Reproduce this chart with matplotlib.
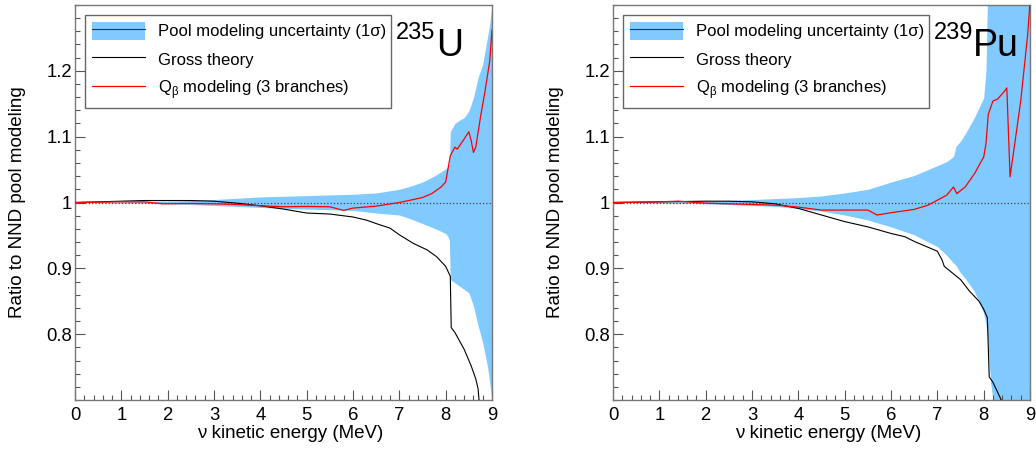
"""Ratio to NND pool modeling for 235U and 239Pu"""
import matplotlib
matplotlib.use("Agg")
import matplotlib.pyplot as plt
from matplotlib.patches import Patch
from matplotlib.lines import Line2D
from matplotlib.ticker import FixedLocator, MultipleLocator

plt.rcParams['font.family'] = ['Liberation Sans', 'DejaVu Sans']

BLUE = '#80caff'

# ---- 235U ----
u235_band_x = [0, 0.5, 1, 1.5, 2, 2.5, 3, 3.5, 4, 4.5, 5, 5.5, 6, 6.5, 7, 7.25,
               7.5, 7.75, 8, 8.05, 8.08, 8.1, 8.2, 8.3, 8.4, 8.5, 8.6, 8.7, 8.8,
               8.9, 8.95, 9.0]
u235_band_hi = [1, 1.0005, 1.001, 1.0015, 1.002, 1.003, 1.0045, 1.0065, 1.0085,
                1.0095, 1.0105, 1.0115, 1.0125, 1.0145, 1.02, 1.025, 1.031, 1.04,
                1.051, 1.055, 1.06, 1.1075, 1.12, 1.125, 1.129, 1.139, 1.159,
                1.19, 1.21, 1.25, 1.27, 1.3]
u235_band_lo = [1, 0.9995, 0.999, 0.9985, 0.998, 0.997, 0.9955, 0.994, 0.9925,
                0.991, 0.99, 0.989, 0.988, 0.984, 0.981, 0.975, 0.968, 0.961,
                0.953, 0.948, 0.943, 0.883, 0.878, 0.873, 0.868, 0.863, 0.843,
                0.813, 0.787, 0.752, 0.727, 0.70]
u235_gross_x = [0, 0.5, 1, 1.5, 2, 2.5, 3, 3.5, 4, 4.5, 5, 5.5, 6, 6.3, 6.5, 6.8,
                7, 7.3, 7.6, 7.8, 8, 8.1, 8.12, 8.2, 8.4, 8.55, 8.65, 8.7, 8.72]
u235_gross_y = [1, 1.001, 1.002, 1.003, 1.003, 1.003, 1.002, 0.999, 0.995, 0.99,
                0.984, 0.9825, 0.978, 0.973, 0.968, 0.961, 0.951, 0.938, 0.928,
                0.918, 0.903, 0.888, 0.81, 0.8025, 0.777, 0.752, 0.732, 0.717, 0.70]
u235_qb_x = [0, 1, 1.5, 1.9, 2.5, 3, 3.5, 4, 4.5, 5, 5.5, 5.8, 6, 6.5, 7, 7.3,
             7.5, 7.7, 7.9, 8.0, 8.1, 8.2, 8.25, 8.4, 8.5, 8.55, 8.6, 8.65, 8.75,
             8.85, 8.95, 9.0]
u235_qb_y = [1, 1.001, 1.001, 0.998, 0.9985, 0.998, 0.997, 0.995, 0.9935, 0.994,
             0.9935, 0.988, 0.9915, 0.9945, 1.0, 1.0045, 1.0075, 1.0135, 1.0235,
             1.031, 1.071, 1.084, 1.081, 1.0965, 1.1075, 1.094, 1.076, 1.084,
             1.129, 1.169, 1.2145, 1.262]

# ---- 239Pu ----
pu239_band_x = [0, 0.5, 1, 1.5, 2, 2.5, 3, 3.5, 4, 4.5, 5, 5.5, 6, 6.5, 7, 7.2,
                7.35, 7.4, 7.5, 7.6, 7.8, 8.0, 8.05, 8.08, 8.15, 8.2, 9.0]
pu239_band_hi = [1, 1.0005, 1.001, 1.0015, 1.002, 1.003, 1.0045, 1.006, 1.0075,
                 1.01, 1.0145, 1.02, 1.031, 1.041, 1.056, 1.062, 1.07, 1.085,
                 1.093, 1.104, 1.129, 1.159, 1.2, 1.3, 1.3, 1.3, 1.3]
pu239_band_lo = [1, 0.9995, 0.999, 0.9985, 0.998, 0.997, 0.9955, 0.994, 0.991,
                 0.987, 0.981, 0.9735, 0.963, 0.951, 0.933, 0.92, 0.908, 0.905,
                 0.893, 0.885, 0.865, 0.832, 0.815, 0.8, 0.727, 0.70, 0.70]
pu239_gross_x = [0, 1, 2, 2.5, 3, 3.5, 4, 4.5, 5, 5.5, 6, 6.3, 6.5, 7, 7.1, 7.15,
                 7.5, 7.7, 7.9, 8, 8.08, 8.12, 8.2, 8.3, 8.38]
pu239_gross_y = [1, 1.001, 1.002, 1.002, 1.001, 0.998, 0.991, 0.981, 0.971, 0.963,
                 0.953, 0.948, 0.941, 0.926, 0.913, 0.903, 0.883, 0.865, 0.85,
                 0.838, 0.825, 0.735, 0.727, 0.712, 0.70]
pu239_qb_x = [0, 1, 1.4, 2, 3, 3.5, 4, 4.5, 5, 5.5, 5.7, 6, 6.3, 6.5, 6.8, 7, 7.2,
              7.35, 7.42, 7.6, 7.8, 8, 8.05, 8.1, 8.2, 8.3, 8.45, 8.5, 8.57, 8.8,
              8.95, 9.0]
pu239_qb_y = [1, 1.001, 1.002, 0.999, 0.997, 0.996, 0.993, 0.9885, 0.9885, 0.9885,
              0.981, 0.9845, 0.9875, 0.9895, 0.996, 1.0035, 1.011, 1.0235, 1.0135,
              1.0235, 1.0435, 1.069, 1.089, 1.134, 1.154, 1.157, 1.169, 1.174,
              1.039, 1.154, 1.255, 1.305]

y_ticks = [0.8, 0.9, 1.0, 1.1, 1.2]
y_tick_labels = ['0.8', '0.9', '1', '1.1', '1.2']
x_ticks = list(range(10))


def draw(ax, band_x, hi, lo, gx, gy, qx, qy, mass, elem):
    """Draw one panel"""
    ax.fill_between(band_x, lo, hi, color=BLUE, lw=0, zorder=1)
    ax.plot([0, 9], [1, 1], ls=':', color='#444444', lw=0.9, zorder=2)
    ax.plot(gx, gy, color='black', lw=0.8, zorder=3)
    ax.plot(qx, qy, color='red', lw=0.9, zorder=4)
    ax.set_xlim(0, 9)
    ax.set_ylim(0.7, 1.3)
    ax.yaxis.set_major_locator(FixedLocator(y_ticks))
    ax.set_yticklabels(y_tick_labels)
    ax.yaxis.set_minor_locator(MultipleLocator(0.02))
    ax.xaxis.set_major_locator(FixedLocator(x_ticks))
    ax.xaxis.set_minor_locator(MultipleLocator(0.2))
    ax.tick_params(which='both', direction='in', colors='#555555',
                   labelcolor='black', labelsize=13.3, top=False, right=False)
    ax.tick_params(which='major', length=7.5, width=0.8)
    ax.tick_params(which='minor', length=3.8, width=0.8)
    ax.tick_params(axis='y', pad=2)
    ax.tick_params(axis='x', pad=5)
    for s in ax.spines.values():
        s.set_color('#777777')
        s.set_linewidth(1.0)
    ax.set_xlabel('ν kinetic energy (MeV)', fontsize=13.5)
    ax.set_ylabel('Ratio to NND pool modeling', fontsize=13.5)
    ax.xaxis.set_label_coords(0.516, -0.063)
    ax.yaxis.set_label_coords(-0.118, 0.5)

    handles = [(Patch(facecolor=BLUE, edgecolor='none'),
                Line2D([], [], color='#333333', lw=0.8)),
               Line2D([], [], color='black', lw=0.8),
               Line2D([], [], color='red', lw=0.9)]
    labels = ['Pool modeling uncertainty (1σ)', 'Gross theory',
              'Q$_\\mathregular{\\beta}$ modeling (3 branches)']
    leg = ax.legend(handles, labels, loc='upper left',
                    bbox_to_anchor=(0.024, 0.737, 0.734, 0.238),
                    mode='expand', borderaxespad=0, fontsize=12,
                    handlelength=3.2, handleheight=1.3, handletextpad=0.75,
                    labelspacing=0.6, borderpad=0.42, fancybox=False,
                    framealpha=1, edgecolor='#666666')
    leg.get_frame().set_linewidth(1.0)

    ax.text(6.92, 1.249, mass, fontsize=17)
    ax.text(7.80 if elem == 'U' else 7.76, 1.222, elem, fontsize=27)


fig = plt.figure(figsize=(10.36, 4.5), dpi=100)
ax1 = fig.add_axes([0.0724, 0.111, 0.4025, 0.878])
ax2 = fig.add_axes([0.5917, 0.111, 0.4025, 0.878])

draw(ax1, u235_band_x, u235_band_hi, u235_band_lo, u235_gross_x, u235_gross_y,
     u235_qb_x, u235_qb_y, '235', 'U')
draw(ax2, pu239_band_x, pu239_band_hi, pu239_band_lo, pu239_gross_x,
     pu239_gross_y, pu239_qb_x, pu239_qb_y, '239', 'Pu')

fig.savefig('out.png', dpi=100)
